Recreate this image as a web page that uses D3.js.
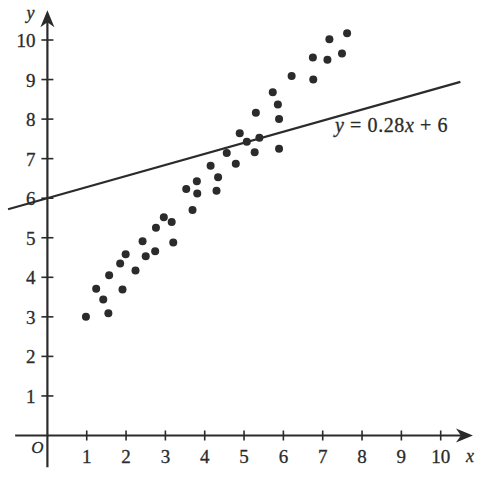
<!DOCTYPE html>
<html>
<head>
<meta charset="utf-8">
<script src="https://cdn.jsdelivr.net/npm/d3@7"></script>
<style>
html,body{margin:0;padding:0;background:#fff;}
svg{display:block;}
</style>
</head>
<body>
<svg id="chart" width="502" height="482"></svg>
<script>
// Data
const xTicks = [1,2,3,4,5,6,7,8,9,10];
const yTicks = [1,2,3,4,5,6,7,8,9,10];
const pointsX = [0.98,1.24,1.42,1.55,1.57,1.85,1.91,1.99,2.24,2.42,2.50,2.74,2.76,2.96,3.16,3.20,3.53,3.69,3.80,3.81,4.15,4.30,4.34,4.56,4.79,4.89,5.07,5.27,5.30,5.39,5.73,5.86,5.89,5.89,6.21,6.75,6.76,7.12,7.17,7.49,7.62];
const pointsY = [3.00,3.71,3.44,3.09,4.05,4.35,3.69,4.58,4.17,4.91,4.53,4.66,5.25,5.52,5.40,4.88,6.23,5.70,6.43,6.12,6.82,6.19,6.53,7.14,6.87,7.64,7.43,7.16,8.16,7.53,8.68,8.37,8.00,7.25,9.09,9.56,9.00,9.50,10.02,9.66,10.17];
const lineSlope = 0.28;
const lineIntercept = 6;
const lineRange = [-1, 10.5];

const ink = "#2b2b2b";
const FONT = "Liberation Serif";
const svg = d3.select("#chart");
const x = d3.scaleLinear().domain([0,10]).range([47.4, 440.7]);
const y = d3.scaleLinear().domain([0,10]).range([435.5, 40]);

function styleText(sel, size){
  return sel.attr("font-family", FONT).attr("font-size", size)
    .attr("fill", ink).attr("stroke", ink).attr("stroke-width", 0.3);
}

// Axes lines
const x0 = x(0), y0 = y(0);
svg.append("line").attr("x1", x(-0.82)).attr("x2", x(10.6)).attr("y1", y0).attr("y2", y0)
  .attr("stroke", ink).attr("stroke-width", 2.2);
svg.append("line").attr("x1", x0).attr("x2", x0).attr("y1", y(-0.8)).attr("y2", y(10.55))
  .attr("stroke", ink).attr("stroke-width", 2.2);

// Arrow heads
const xt = x(10.82);
svg.append("path").attr("d", `M${xt},${y0} L${xt-17},${y0-7} L${xt-12},${y0} L${xt-17},${y0+7} Z`).attr("fill", ink);
const yt = y(10.75);
svg.append("path").attr("d", `M${x0},${yt} L${x0-7},${yt+17} L${x0},${yt+12} L${x0+7},${yt+17} Z`).attr("fill", ink);

// Ticks
svg.selectAll(".xt").data(xTicks).join("line")
  .attr("x1", d => x(d)).attr("x2", d => x(d)).attr("y1", y0-5).attr("y2", y0+5)
  .attr("stroke", ink).attr("stroke-width", 1.6);
svg.selectAll(".yt").data(yTicks).join("line")
  .attr("y1", d => y(d)).attr("y2", d => y(d)).attr("x1", x0-6).attr("x2", x0+6)
  .attr("stroke", ink).attr("stroke-width", 1.6);

// Tick labels
styleText(svg.selectAll(".xl").data(xTicks).join("text")
  .attr("x", d => x(d)).attr("y", y0+27).attr("text-anchor", "middle"), 19).text(d => d);
styleText(svg.selectAll(".yl").data(yTicks).join("text")
  .attr("x", x0-12).attr("y", d => y(d)+7).attr("text-anchor", "end"), 19).text(d => d);

// Origin and axis names
styleText(svg.append("text").attr("x", x0-10).attr("y", y0+17).attr("text-anchor", "middle")
  .attr("font-style", "italic"), 17).text("O");
styleText(svg.append("text").attr("x", x0-17).attr("y", 19).attr("text-anchor", "middle")
  .attr("font-style", "italic"), 18).text("y");
styleText(svg.append("text").attr("x", x(10.82)-3).attr("y", y0+26).attr("text-anchor", "middle")
  .attr("font-style", "italic"), 18).text("x");

// Regression line
svg.append("line")
  .attr("x1", x(lineRange[0])).attr("y1", y(lineSlope*lineRange[0]+lineIntercept))
  .attr("x2", x(lineRange[1])).attr("y2", y(lineSlope*lineRange[1]+lineIntercept))
  .attr("stroke", ink).attr("stroke-width", 2.2);

// Equation label
const eq = styleText(svg.append("text").attr("x", 335).attr("y", 132), 20)
  .attr("letter-spacing", 0.6);
eq.append("tspan").attr("font-style", "italic").text("y");
eq.append("tspan").text(" = 0.28");
eq.append("tspan").attr("font-style", "italic").text("x");
eq.append("tspan").text(" + 6");

// Points
svg.selectAll(".pt").data(pointsX.map((v,i)=>[v, pointsY[i]])).join("circle")
  .attr("cx", d => x(d[0])).attr("cy", d => y(d[1])).attr("r", 4).attr("fill", ink);
</script>
</body>
</html>
